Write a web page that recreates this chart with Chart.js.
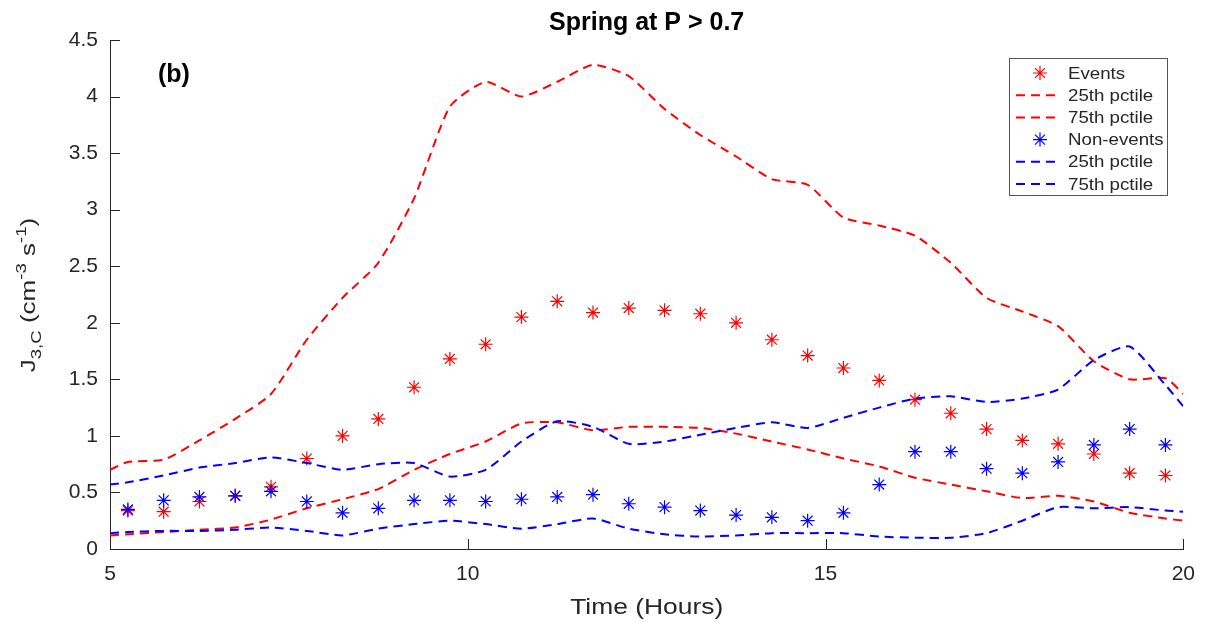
<!DOCTYPE html>
<html>
<head>
<meta charset="utf-8">
<title>Spring at P > 0.7</title>
<script src="https://cdn.jsdelivr.net/npm/chart.js@4.4.0/dist/chart.umd.min.js"></script>
<style>
  html, body { margin: 0; padding: 0; background: #fff; }
  canvas { display: block; }
</style>
</head>
<body>
<canvas id="myChart" width="1208" height="622"></canvas>
<script>
// half-hour bin centres for the star markers
const hours = [5.25, 5.75, 6.25, 6.75, 7.25, 7.75, 8.25, 8.75, 9.25, 9.75,
  10.25, 10.75, 11.25, 11.75, 12.25, 12.75, 13.25, 13.75, 14.25, 14.75,
  15.25, 15.75, 16.25, 16.75, 17.25, 17.75, 18.25, 18.75, 19.25, 19.75];
// percentile curves run edge to edge
const lineHours = [5, 5.25, 5.75, 6.25, 6.75, 7.25, 7.75, 8.25, 8.75, 9.25, 9.75,
  10.25, 10.75, 11.25, 11.75, 12.25, 12.75, 13.25, 13.75, 14.25, 14.75,
  15.25, 15.75, 16.25, 16.75, 17.25, 17.75, 18.25, 18.75, 19.25, 19.75, 20];

const eventsMid = [0.34, 0.33, 0.42, 0.47, 0.55, 0.80, 1.00, 1.15, 1.43, 1.68,
  1.81, 2.05, 2.19, 2.09, 2.13, 2.11, 2.08, 2.00, 1.85, 1.71,
  1.60, 1.49, 1.32, 1.20, 1.06, 0.96, 0.93, 0.84, 0.67, 0.65];
const events25 = [0.12, 0.13, 0.15, 0.17, 0.19, 0.26, 0.36, 0.44, 0.53, 0.70, 0.84,
  0.95, 1.11, 1.12, 1.05, 1.08, 1.08, 1.07, 1.02, 0.95, 0.88,
  0.80, 0.73, 0.63, 0.57, 0.51, 0.45, 0.47, 0.42, 0.32, 0.27, 0.25];
const events75 = [0.70, 0.77, 0.79, 0.96, 1.15, 1.37, 1.85, 2.22, 2.53, 3.10, 3.91,
  4.13, 4.00, 4.13, 4.28, 4.18, 3.89, 3.66, 3.47, 3.27, 3.22,
  2.93, 2.86, 2.77, 2.53, 2.22, 2.10, 1.97, 1.66, 1.50, 1.51, 1.37];

const nonEventsMid = [0.35, 0.43, 0.46, 0.47, 0.51, 0.42, 0.32, 0.36, 0.43, 0.43,
  0.42, 0.44, 0.46, 0.48, 0.40, 0.37, 0.34, 0.30, 0.28, 0.25,
  0.32, 0.57, 0.86, 0.86, 0.71, 0.67, 0.77, 0.92, 1.06, 0.92];
const nonEvents25 = [0.14, 0.15, 0.16, 0.16, 0.17, 0.19, 0.16, 0.12, 0.18, 0.22, 0.25,
  0.22, 0.18, 0.22, 0.27, 0.18, 0.13, 0.11, 0.12, 0.14, 0.14,
  0.14, 0.11, 0.10, 0.10, 0.14, 0.25, 0.37, 0.36, 0.37, 0.34, 0.33];
const nonEvents75 = [0.57, 0.59, 0.65, 0.72, 0.76, 0.81, 0.76, 0.70, 0.75, 0.76, 0.64,
  0.70, 0.95, 1.13, 1.08, 0.93, 0.95, 1.01, 1.07, 1.12, 1.07,
  1.16, 1.25, 1.33, 1.35, 1.30, 1.33, 1.41, 1.67, 1.79, 1.45, 1.26];

const xTicks = [5, 10, 15, 20];
const yTickLabels = ['0', '0.5', '1', '1.5', '2', '2.5', '3', '3.5', '4', '4.5'];
const legendLabels = ['Events', '25th pctile', '75th pctile', 'Non-events', '25th pctile', '75th pctile'];

const RED = '#ff0000';
const BLUE = '#0000ff';
const AXIS = '#262626';
const FONT = '"Liberation Sans", Arial, Helvetica, sans-serif';

function pts(xs, ys) {
  return xs.map((x, i) => ({ x: x, y: ys[i] }));
}

function starSet(label, ys, color, order) {
  return {
    label: label,
    data: pts(hours, ys),
    showLine: false,
    pointStyle: 'star',
    pointRadius: 7,
    pointHoverRadius: 7,
    borderColor: color,
    backgroundColor: color,
    borderWidth: 1.2,
    order: order
  };
}

function dashSet(label, ys, color, order) {
  return {
    label: label,
    data: pts(lineHours, ys),
    showLine: true,
    pointRadius: 0,
    borderColor: color,
    backgroundColor: color,
    borderWidth: 2,
    borderDash: [9, 6],
    tension: 0.2,
    order: order
  };
}

// draws a matlab style '*' marker
function star(ctx, x, y, r, color) {
  ctx.save();
  ctx.strokeStyle = color;
  ctx.lineWidth = 1.2;
  ctx.beginPath();
  for (let k = 0; k < 4; k++) {
    const a = k * Math.PI / 4;
    ctx.moveTo(x - r * Math.cos(a), y - r * Math.sin(a));
    ctx.lineTo(x + r * Math.cos(a), y + r * Math.sin(a));
  }
  ctx.stroke();
  ctx.restore();
}

// text stretched along its run, like the exported figure fonts
function wideText(ctx, txt, x, y, sx) {
  ctx.save();
  ctx.translate(x, y);
  ctx.scale(sx, 1);
  ctx.fillText(txt, 0, 0);
  ctx.restore();
}

const decor = {
  id: 'decor',
  afterDraw(chart) {
    const ctx = chart.ctx;
    const xs = chart.scales.x, ys = chart.scales.y;
    const area = chart.chartArea;

    // inward ticks
    ctx.save();
    ctx.strokeStyle = AXIS;
    ctx.lineWidth = 1;
    ctx.beginPath();
    ys.ticks.forEach(t => {
      const py = Math.round(ys.getPixelForValue(t.value)) + 0.5;
      ctx.moveTo(area.left, py);
      ctx.lineTo(area.left + 10, py);
    });
    xs.ticks.forEach(t => {
      const px = Math.round(xs.getPixelForValue(t.value)) + 0.5;
      ctx.moveTo(px, area.bottom);
      ctx.lineTo(px, area.bottom - 10);
    });
    ctx.stroke();
    ctx.restore();

    // title and panel tag
    ctx.save();
    ctx.fillStyle = '#000';
    ctx.textAlign = 'center';
    ctx.textBaseline = 'alphabetic';
    ctx.font = 'bold 25px ' + FONT;
    ctx.fillText('Spring at P > 0.7', (area.left + area.right) / 2, 30);
    ctx.font = 'bold 25px ' + FONT;
    ctx.textAlign = 'left';
    ctx.fillText('(b)', 158, 82);
    ctx.restore();

    // x axis title
    ctx.save();
    ctx.fillStyle = AXIS;
    ctx.font = '22px ' + FONT;
    ctx.textAlign = 'center';
    ctx.textBaseline = 'alphabetic';
    wideText(ctx, 'Time (Hours)', (area.left + area.right) / 2, 614, 1.2);
    ctx.restore();

    // y axis title with sub/superscripts
    const parts = [
      ['J', 21, 0], ['3,C', 15, 6], [' (cm', 21, 0], ['-3', 15, -9],
      [' s', 21, 0], ['-1', 15, -9], [')', 21, 0]
    ];
    const sx = 1.24;
    ctx.save();
    ctx.fillStyle = AXIS;
    ctx.textBaseline = 'alphabetic';
    ctx.textAlign = 'left';
    let total = 0;
    parts.forEach(p => { ctx.font = p[1] + 'px ' + FONT; total += ctx.measureText(p[0]).width * sx; });
    ctx.translate(35, 295);
    ctx.rotate(-Math.PI / 2);
    let cx = -total / 2;
    parts.forEach(p => {
      ctx.font = p[1] + 'px ' + FONT;
      wideText(ctx, p[0], cx, p[2], sx);
      cx += ctx.measureText(p[0]).width * sx;
    });
    ctx.restore();

    // legend box
    const bx = 1009, by = 58, bw = 158, bh = 137;
    ctx.save();
    ctx.fillStyle = '#fff';
    ctx.fillRect(bx, by, bw, bh);
    ctx.strokeStyle = '#555';
    ctx.lineWidth = 1;
    ctx.strokeRect(bx + 0.5, by + 0.5, bw, bh);
    const sets = chart.data.datasets;
    const rows = [5, 4, 3, 2, 1, 0];
    ctx.font = '17px ' + FONT;
    ctx.textBaseline = 'middle';
    ctx.textAlign = 'left';
    rows.forEach((di, row) => {
      const ds = sets[di];
      const ry = 73 + row * 22.2;
      if (ds.showLine) {
        ctx.save();
        ctx.strokeStyle = ds.borderColor;
        ctx.lineWidth = 2;
        ctx.setLineDash([9, 6]);
        ctx.beginPath();
        ctx.moveTo(1016, ry);
        ctx.lineTo(1058, ry);
        ctx.stroke();
        ctx.restore();
      } else {
        star(ctx, 1040, ry, 7, ds.borderColor);
      }
      ctx.fillStyle = AXIS;
      wideText(ctx, legendLabels[row], 1068, ry + 1, 1.1);
    });
    ctx.restore();
  }
};

// blue drawn over red, stars under their own curves
const data = {
  datasets: [
    dashSet('75th pctile', nonEvents75, BLUE, 0),
    dashSet('25th pctile', nonEvents25, BLUE, 1),
    starSet('Non-events', nonEventsMid, BLUE, 2),
    dashSet('75th pctile', events75, RED, 3),
    dashSet('25th pctile', events25, RED, 4),
    starSet('Events', eventsMid, RED, 5)
  ]
};

const config = {
  type: 'scatter',
  data,
  options: {
    responsive: false,
    animation: false,
    layout: { padding: { top: 40, right: 19, left: 0, bottom: 0 } },
    plugins: {
      legend: { display: false },
      tooltip: { enabled: false },
      title: { display: false }
    },
    scales: {
      x: {
        type: 'linear',
        min: 5,
        max: 20,
        afterFit(scale) { scale.height = 73; },
        afterBuildTicks(scale) { scale.ticks = xTicks.map(v => ({ value: v })); },
        grid: { display: false, drawTicks: false },
        border: { display: true, color: AXIS, width: 1 },
        ticks: { color: AXIS, padding: 13, font: { family: FONT, size: 21 }, maxRotation: 0 }
      },
      y: {
        min: 0,
        max: 4.5,
        afterFit(scale) { scale.width = 110; },
        grid: { display: false, drawTicks: false },
        border: { display: true, color: AXIS, width: 1 },
        ticks: {
          stepSize: 0.5,
          color: AXIS,
          padding: 12,
          font: { family: FONT, size: 21 },
          callback: (v, i) => yTickLabels[i]
        }
      }
    }
  },
  plugins: [decor]
};

const myChart = new Chart(document.getElementById('myChart'), config);
</script>
</body>
</html>
